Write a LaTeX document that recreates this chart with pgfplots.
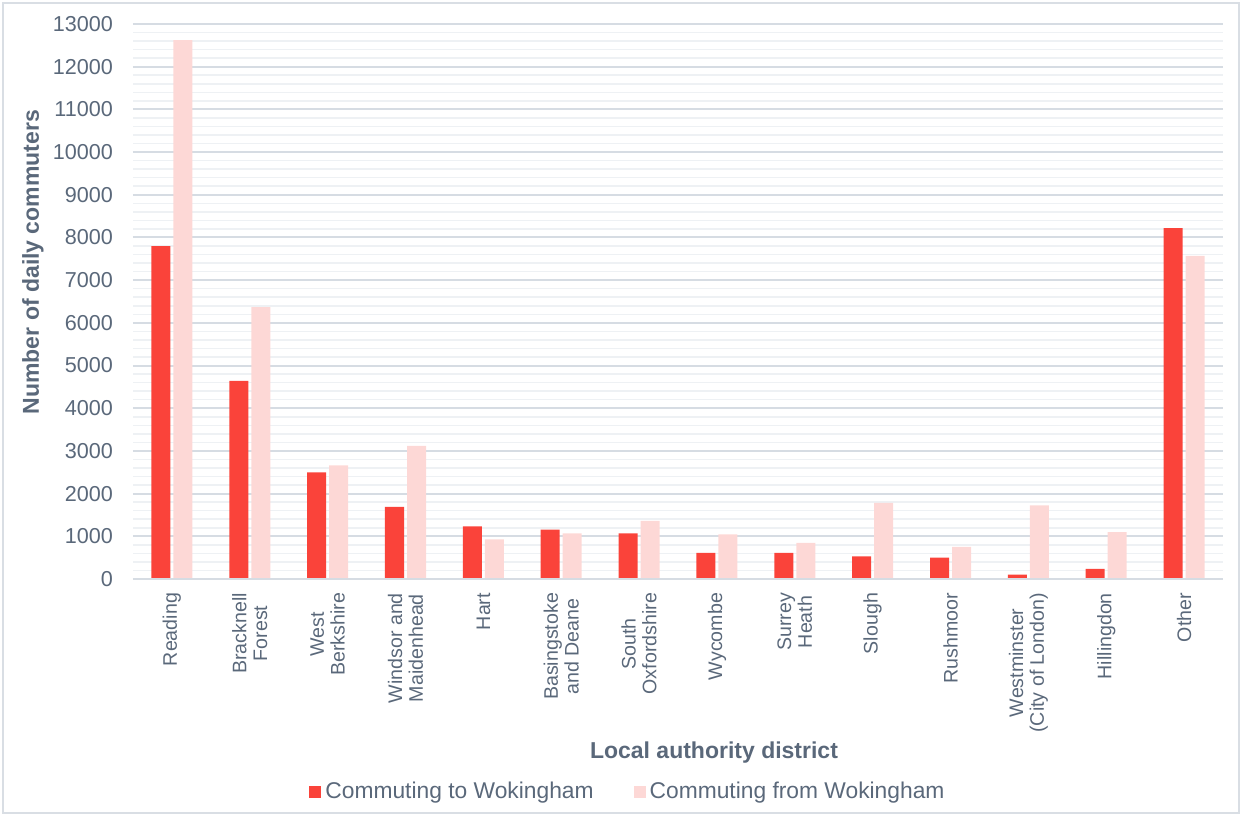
\documentclass[border=0pt]{standalone}
\usepackage{fontspec}
\setmainfont{Liberation Sans}
\usepackage{pgfplots}
\pgfplotsset{compat=1.18}
\definecolor{barred}{RGB}{250,67,58}
\definecolor{barpink}{RGB}{253,216,214}
\definecolor{txt}{RGB}{90,104,122}
\definecolor{gridmaj}{RGB}{214,220,227}
\definecolor{gridmin}{RGB}{238,241,244}
\definecolor{framec}{RGB}{217,222,228}
\begin{document}
\begin{tikzpicture}
\path[use as bounding box] (-66.5pt,-118.5pt) rectangle (554.5pt,289.5pt);
\begin{axis}[
  at={(0,0)}, anchor=south west,
  scale only axis, width=545pt, height=277.5pt,
  ybar, bar width=9.5pt, ybar=1.5pt,
  xmin=-0.5, xmax=13.5, ymin=0, ymax=13000,
  xtick=data,
  xticklabels={Reading,{Bracknell\\Forest},{West\\Berkshire},{Windsor and\\Maidenhead},Hart,{Basingstoke\\and Deane},{South\\Oxfordshire},Wycombe,{Surrey\\Heath},Slough,Rushmoor,{Westminster\\(City of London)},Hillingdon,Other},
  xticklabel style={align=center, rotate=90, anchor=east, font=\fontsize{9.8}{10.4}\selectfont, text=txt, xshift=-3.5pt},
  ytick={0,1000,...,13000},
  minor y tick num=4,
  ymajorgrids, yminorgrids,
  major grid style={draw=gridmaj, line width=1pt},
  minor grid style={draw=gridmin, line width=0.75pt},
  axis line style={draw=none},
  tick style={draw=none},
  major tick length=0pt, minor tick length=0pt,
  scaled y ticks=false,
  yticklabel style={font=\fontsize{10.8}{13}\selectfont, text=txt, xshift=-6.5pt, /pgf/number format/assume math mode=true, /pgf/number format/1000 sep={}},
  xlabel={Local authority district},
  xlabel style={at={(axis description cs:0.533,-0.312)}, anchor=center, font=\bfseries\fontsize{11.5}{13}\selectfont, text=txt},
  ylabel={Number of daily commuters},
  ylabel style={at={(axis description cs:-0.0917,0.571)}, anchor=center, font=\bfseries\fontsize{11.5}{13}\selectfont, text=txt},
  legend style={at={(axis description cs:0.455,-0.384)}, anchor=center, draw=none, fill=none, legend columns=2, font=\fontsize{11.4}{13}\selectfont, text=txt, /tikz/every even column/.append style={column sep=18pt}},
]
\addplot[fill=barred, draw=none, legend image code/.code={\fill[barred] (0pt,-3pt) rectangle (6pt,3pt);}] coordinates {
(0,7800)(1,4640)(2,2500)(3,1690)(4,1230)(5,1155)(6,1070)(7,615)(8,610)(9,530)(10,500)(11,100)(12,240)(13,8220)};
\addlegendentry{Commuting to Wokingham}
\addplot[fill=barpink, draw=none, legend image code/.code={\fill[barpink] (0pt,-3pt) rectangle (6pt,3pt);}] coordinates {
(0,12620)(1,6370)(2,2660)(3,3120)(4,930)(5,1070)(6,1360)(7,1045)(8,845)(9,1785)(10,755)(11,1725)(12,1100)(13,7570)};
\addlegendentry{Commuting from Wokingham}
\draw[gridmaj, line width=1pt] (axis cs:-0.5,0) -- (axis cs:13.5,0);
\end{axis}
\draw[framec, line width=1pt] (-65pt,-117pt) rectangle (553pt,288pt);
\end{tikzpicture}
\end{document}
